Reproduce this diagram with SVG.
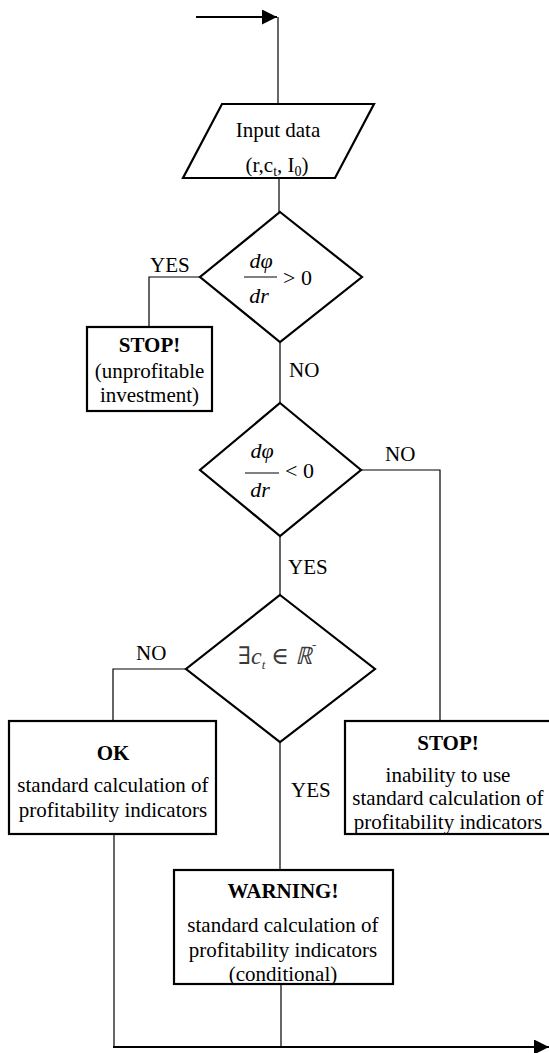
<svg xmlns="http://www.w3.org/2000/svg" width="549" height="1053" viewBox="0 0 549 1053">
<style>
  .shape { fill: #ffffff; stroke: #000000; stroke-width: 2.2; }
  .conn { fill: none; stroke: #000000; stroke-width: 1.2; }
  .thick { fill: none; stroke: #000000; stroke-width: 2.2; }
  text { font-family: 'Liberation Serif', 'DejaVu Serif', serif; font-size: 21px; fill: #000000; }
  .c { text-anchor: middle; }
  .b { font-weight: bold; }
  .m { font-size: 22px; font-style: italic; }
  .mr { font-size: 22px; }
  .g { fill: #3a3a3a; }
  .it { font-style: italic; }
</style>
<defs>
  <marker id="arrow" markerUnits="userSpaceOnUse" markerWidth="16" markerHeight="16" refX="15" refY="7.5" orient="auto">
    <path d="M0,0 L15,7.5 L0,15 z" fill="#000000"/>
  </marker>
</defs>

<g id="connectors">
  <line class="thick" x1="196" y1="17" x2="277" y2="17" marker-end="url(#arrow)"/>
  <line class="conn" x1="278" y1="17" x2="278" y2="104"/>
  <line class="conn" x1="279" y1="178" x2="279" y2="212"/>
  <polyline class="conn" points="200,277 149,277 149,327"/>
  <line class="conn" x1="280" y1="342" x2="280" y2="403"/>
  <polyline class="conn" points="361,470 440,470 440,721"/>
  <line class="conn" x1="280" y1="536" x2="280" y2="595"/>
  <polyline class="conn" points="186,669 113,669 113,721"/>
  <line class="conn" x1="280" y1="742" x2="280" y2="870"/>
  <line class="conn" x1="114" y1="834" x2="114" y2="1047"/>
  <line class="conn" x1="281" y1="984" x2="281" y2="1047"/>
  <line class="thick" x1="113" y1="1047" x2="549" y2="1047" marker-end="url(#arrow)"/>
  <text x="150" y="272">YES</text>
  <text x="289" y="377">NO</text>
  <text x="385" y="461">NO</text>
  <text x="288" y="574">YES</text>
  <text x="136" y="660">NO</text>
  <text x="291" y="797">YES</text>
</g>

<g id="input">
  <polygon class="shape" points="222,104 374,104 335,178 183,178"/>
  <text class="c" x="278" y="137">Input data</text>
  <text class="c" x="277" y="172">(r,c<tspan style="font-size:14px" dy="4">t</tspan><tspan dy="-4">, I</tspan><tspan style="font-size:14px" dy="4">0</tspan><tspan dy="-4">)</tspan></text>
</g>

<g id="decision1">
  <polygon class="shape" points="280,212 362,277 280,342 200,277"/>
  <text class="m c" x="261" y="268">dφ</text>
  <line x1="244" y1="277" x2="277" y2="277" stroke="#000" stroke-width="1"/>
  <text class="m c" x="259" y="303">dr</text>
  <text class="mr" x="283" y="285">&gt; 0</text>
</g>

<g id="stop1">
  <rect class="shape" x="87" y="327" width="125" height="84"/>
  <text class="c b" x="149.5" y="352">STOP!</text>
  <text class="c" x="149.5" y="378">(unprofitable</text>
  <text class="c" x="149.5" y="402">investment)</text>
</g>

<g id="decision2">
  <polygon class="shape" points="280,403 361,470 280,536 200,470"/>
  <text class="m c" x="262" y="458">dφ</text>
  <line x1="245" y1="473" x2="279" y2="473" stroke="#000" stroke-width="1"/>
  <text class="m c" x="260" y="497">dr</text>
  <text class="mr" x="285" y="478">&lt; 0</text>
</g>

<g id="decision3">
  <polygon class="shape" points="280,595 375,669 280,742 186,669"/>
  <text class="g" x="238" y="664" style="font-size:24px">∃<tspan class="it">c</tspan><tspan class="it" style="font-size:13px" dy="5">t</tspan><tspan dy="-5"> ∈ </tspan><tspan class="it">ℝ</tspan><tspan style="font-size:13px" dy="-15">-</tspan></text>
</g>

<g id="ok">
  <rect class="shape" x="9" y="721" width="207" height="113"/>
  <text class="c b" x="113" y="760">OK</text>
  <text class="c" x="113" y="792">standard calculation of</text>
  <text class="c" x="113" y="817">profitability indicators</text>
</g>

<g id="stop2">
  <rect class="shape" x="345" y="721" width="207" height="113"/>
  <text class="c b" x="448" y="750">STOP!</text>
  <text class="c" x="448" y="782">inability to use</text>
  <text class="c" x="448" y="805">standard calculation of</text>
  <text class="c" x="448" y="829">profitability indicators</text>
</g>

<g id="warning">
  <rect class="shape" x="174" y="870" width="219" height="114"/>
  <text class="c b" x="283" y="898">WARNING!</text>
  <text class="c" x="283" y="932">standard calculation of</text>
  <text class="c" x="283" y="957">profitability indicators</text>
  <text class="c" x="283" y="981">(conditional)</text>
</g>
</svg>
